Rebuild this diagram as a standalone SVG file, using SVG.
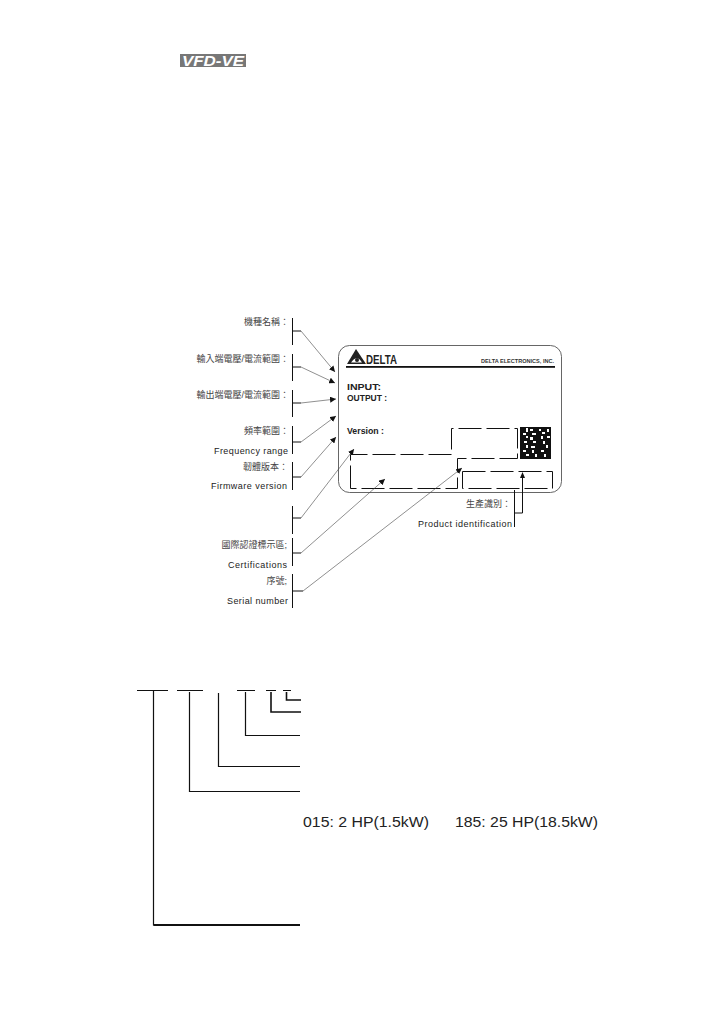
<svg xmlns="http://www.w3.org/2000/svg" width="726" height="1032" viewBox="0 0 726 1032">
<style>
text{font-family:"Liberation Sans","Noto Sans CJK TC",sans-serif;fill:#333}
.cn{font-size:9px;text-anchor:end;fill:#444}
.en{font-size:9px;fill:#222}
.lb{font-size:9.500px;font-weight:bold;fill:#222}
.br{fill:none;stroke:#111;stroke-width:1}
.ar{fill:none;stroke:#444;stroke-width:.6;marker-end:url(#a)}
.dash{fill:none;stroke:#111;stroke-width:1;stroke-dasharray:23 5}
.code{fill:none;stroke:#111;stroke-width:1.200}
.hp{font-size:15.500px;fill:#222}
</style>
<defs><marker id="a" markerUnits="userSpaceOnUse" markerWidth="7" markerHeight="6" refX="6" refY="3" orient="auto"><path d="M0 0L6 3L0 6Z" fill="#111"/></marker></defs>
<rect width="726" height="1032" fill="#fff"/>
<g id="series-logo"><rect x="180" y="54" width="66" height="13" fill="#777"/><text x="213" y="66" text-anchor="middle" font-size="15" font-weight="bold" font-style="italic" style="fill:#fff" textLength="62" lengthAdjust="spacingAndGlyphs">VFD-VE</text></g>

<g id="label-plate">
<rect x="338.500" y="345.500" width="223" height="147" rx="11" fill="#fff" stroke="#555" stroke-width=".9"/>
<path d="M347 364L356 349L366 364Z" fill="#222"/><path d="M351 362.500Q357 354 362 362.500Z" fill="#fff"/><circle cx="357" cy="360" r="2" fill="#222"/>
<text x="366" y="364" font-size="12" font-weight="bold" style="fill:#222" textLength="31" lengthAdjust="spacingAndGlyphs">DELTA</text>
<text x="554" y="363" text-anchor="end" font-size="5.500" font-weight="bold" style="fill:#333" textLength="73" lengthAdjust="spacingAndGlyphs">DELTA ELECTRONICS, INC.</text>
<rect x="346" y="366" width="209" height="1.800" fill="#111"/>
<text class="lb" x="347" y="390" textLength="34" lengthAdjust="spacingAndGlyphs">INPUT:</text>
<text class="lb" x="347" y="401" textLength="40" lengthAdjust="spacingAndGlyphs">OUTPUT :</text>
<text class="lb" x="347" y="434" textLength="37" lengthAdjust="spacingAndGlyphs">Version :</text>
<path class="dash" d="M350.500 488.500V454.500H451.500V428.500H517.500V458.500H457.500V488.500Z"/>
<path class="dash" d="M462.500 471.500H552.500V488.500H462.500Z"/>
<g id="data-matrix"><rect x="520" y="427" width="31" height="32" fill="#111"/>
<path fill="#fff" d="M526 428h2v4h-2zM530 429h3v2h-3zM539 429h2v2h-2zM547 429h2v3h-2zM523 433h3v2h-3zM532 433h4v2h-4zM542 432h3v2h-3zM547 436h3v2h-3zM526 436h2v2h-2zM530 437h3v3h-3zM541 436h2v3h-2zM524 441h3v2h-3zM533 441h3v2h-3zM543 441h2v3h-2zM526 445h2v3h-2zM531 446h4v2h-4zM546 445h2v3h-2zM523 450h3v2h-3zM532 450h2v3h-2zM541 450h3v2h-3zM526 454h3v2h-3zM535 454h2v3h-2zM544 454h2v3h-2z"/></g>
</g>

<g id="model-name"><text class="cn" x="289" y="325">機種名稱：</text></g>
<g id="input-range"><text class="cn" x="289" y="362">輸入端電壓/電流範圍：</text></g>
<g id="output-range"><text class="cn" x="289" y="398">輸出端電壓/電流範圍：</text></g>
<g id="frequency-range"><text class="cn" x="289" y="434">頻率範圍：</text><text class="en" x="214" y="454" textLength="74">Frequency range</text></g>
<g id="firmware-version"><text class="cn" x="288" y="470">韌體版本：</text><text class="en" x="211" y="489" textLength="76">Firmware version</text></g>
<g id="certifications"><text class="cn" x="287" y="548">國際認證標示區;</text><text class="en" x="228" y="568" textLength="59">Certifications</text></g>
<g id="serial-number"><text class="cn" x="287" y="584">序號;</text><text class="en" x="227" y="604" textLength="61">Serial number</text></g>
<g id="product-identification"><text class="cn" x="511" y="507">生產識別：</text><text class="en" x="418" y="527" textLength="94">Product identification</text></g>

<g id="connectors">
<path class="br" d="M292.500 318V345M292.500 331H301M292.500 354V381M292.500 367H301M292.500 390V417M292.500 403H301M292.500 426V454M292.500 442H301M292.500 462V490M292.500 477H301M292.500 506V534M292.500 518H301M292.500 538V566M292.500 553H301M292.500 574V608M292.500 591H303"/>
<line class="ar" x1="301" y1="331" x2="335" y2="372"/>
<line class="ar" x1="301" y1="367" x2="335" y2="383"/>
<line class="ar" x1="301" y1="403" x2="336" y2="399"/>
<line class="ar" x1="301" y1="442" x2="336" y2="416"/>
<line class="ar" x1="301" y1="477" x2="336" y2="437"/>
<line class="ar" x1="301" y1="518" x2="354" y2="449"/>
<line class="ar" x1="301" y1="553" x2="385" y2="479"/>
<line class="ar" x1="303" y1="591" x2="462" y2="468"/>
<path d="M514.500 490V527M514.500 513H522.500V478" fill="none" stroke="#111" stroke-width="1"/><path d="M522.500 472L520 478H525Z" fill="#111"/>
</g>

<g id="model-code-bars">
<path class="code" d="M137 690.500H168M177 690.500H203M237 690.500H255M266 690.500H276M283 690.500H291"/>
<path class="code" d="M153.500 690V925H300M189.500 692V791.500H300M218.500 693V766.500H300M245.500 692V735.500H300"/>
<path fill="none" stroke="#111" stroke-width="1.600" d="M271 692V712H301M286.500 692V700H301"/>
<path fill="none" stroke="#111" stroke-width="1.800" d="M153.500 925H300"/>
</g>
<g id="power-codes"><text class="hp" x="303" y="827" textLength="126" lengthAdjust="spacingAndGlyphs">015: 2 HP(1.5kW)</text><text class="hp" x="455" y="827" textLength="143" lengthAdjust="spacingAndGlyphs">185: 25 HP(18.5kW)</text></g>
</svg>
